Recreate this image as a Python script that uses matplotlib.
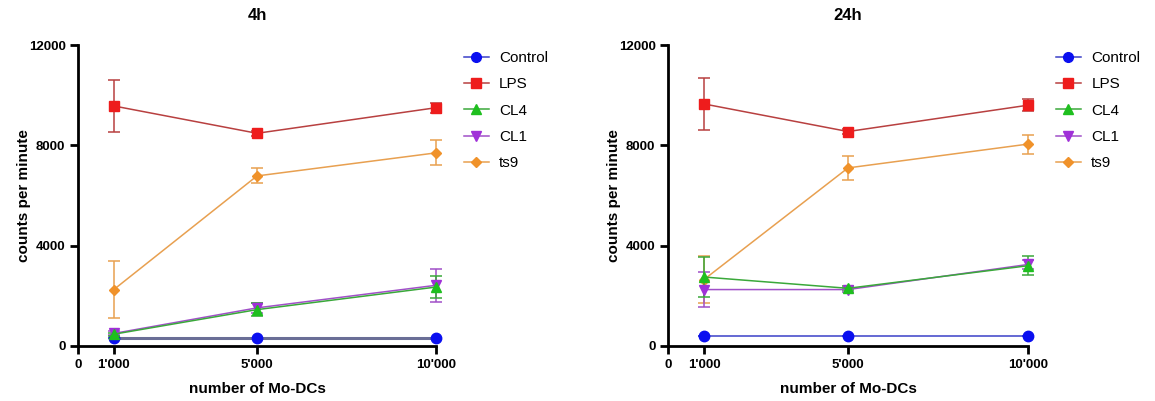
import matplotlib
matplotlib.use("Agg")
import matplotlib.pyplot as plt
from matplotlib.lines import Line2D

plt.rcParams['font.family'] = ['Liberation Sans', 'DejaVu Sans']

x_vals = [1000, 5000, 10000]
x_ticks = [0, 1000, 5000, 10000]
x_ticklabels = ["0", "1'000", "5'000", "10'000"]
y_ticks = [0, 4000, 8000, 12000]
series_names = ["Control", "LPS", "CL4", "CL1", "ts9"]
panel_titles = ["4h", "24h"]

# 4h
h4_control = [300, 300, 300]
h4_control_err = [0, 0, 0]
h4_lps = [9570, 8480, 9500]
h4_lps_err = [1030, 100, 200]
h4_cl4 = [470, 1450, 2350]
h4_cl4_err = [60, 250, 450]
h4_cl1 = [500, 1520, 2420]
h4_cl1_err = [80, 200, 650]
h4_ts9 = [2250, 6780, 7700]
h4_ts9_err = [1150, 300, 500]

# 24h
h24_control = [400, 400, 400]
h24_control_err = [0, 0, 0]
h24_lps = [9650, 8550, 9600]
h24_lps_err = [1050, 100, 230]
h24_cl4 = [2750, 2300, 3200]
h24_cl4_err = [800, 80, 380]
h24_cl1 = [2250, 2250, 3250]
h24_cl1_err = [700, 80, 180]
h24_ts9 = [2650, 7100, 8050]
h24_ts9_err = [950, 480, 380]

panels = [
    [h4_control, h4_lps, h4_cl4, h4_cl1, h4_ts9],
    [h24_control, h24_lps, h24_cl4, h24_cl1, h24_ts9],
]
panel_errs = [
    [h4_control_err, h4_lps_err, h4_cl4_err, h4_cl1_err, h4_ts9_err],
    [h24_control_err, h24_lps_err, h24_cl4_err, h24_cl1_err, h24_ts9_err],
]

marker_colors = ["#0a0ff0", "#ee1c1c", "#1fbf1f", "#a030d8", "#f0922a"]
line_colors = [["#6a6e96", "#b84040", "#3aa83a", "#a050c8", "#e8a050"],
               ["#3a40c8", "#b84040", "#3aa83a", "#a050c8", "#e8a050"]]
line_widths = [[2.2, 1.1, 1.1, 1.1, 1.1], [1.1, 1.1, 1.1, 1.1, 1.1]]
markers = ["o", "s", "^", "v", "D"]
msizes = [7.5, 7.5, 7, 7, 5.5]
zorders = [3, 3, 3.2, 3.1, 3]

fig = plt.figure(figsize=(11.55, 4.01), dpi=100)
W, H = 1155, 401
axes_px = [(78, 436), (668, 1028)]
for pi in range(2):
    x0, x1 = axes_px[pi]
    ax = fig.add_axes([x0 / W, 1 - 346 / H, (x1 - x0) / W, (346 - 45) / H])
    handles = []
    for si in range(5):
        ax.errorbar(x_vals, panels[pi][si], yerr=panel_errs[pi][si],
                    color=line_colors[pi][si], lw=line_widths[pi][si],
                    marker=markers[si], ms=msizes[si],
                    mfc=marker_colors[si], mec=marker_colors[si],
                    ecolor=line_colors[pi][si], elinewidth=1.1, capsize=4,
                    capthick=1.1, clip_on=False, zorder=zorders[si])
        handles.append(Line2D([], [], color=line_colors[1][si], lw=1.1,
                              marker=markers[si], ms=msizes[si] - 0.5,
                              mfc=marker_colors[si], mec=marker_colors[si],
                              label=series_names[si]))
    ax.set_xlim(0, 10000)
    ax.set_ylim(0, 12000)
    ax.set_xticks(x_ticks)
    ax.set_xticklabels(x_ticklabels)
    ax.set_yticks(y_ticks)
    for s in ["top", "right"]:
        ax.spines[s].set_visible(False)
    for s in ["left", "bottom"]:
        ax.spines[s].set_linewidth(2)
    ax.tick_params(width=2, length=6, labelsize=9.5, pad=3)
    for lab in ax.get_xticklabels() + ax.get_yticklabels():
        lab.set_fontweight("bold")
    ax.set_xlabel("number of Mo-DCs", fontsize=11, fontweight="bold", labelpad=8)
    ax.set_ylabel("counts per minute", fontsize=11, fontweight="bold", labelpad=-2)
    ax.set_title(panel_titles[pi], fontsize=12, fontweight="bold", pad=18)
    ax.legend(handles=handles, loc="upper left", bbox_to_anchor=(1.04, 1.025),
              frameon=False, fontsize=11, labelspacing=0.8, handlelength=1.6,
              handletextpad=0.7)

fig.savefig("out.png", dpi=100)
